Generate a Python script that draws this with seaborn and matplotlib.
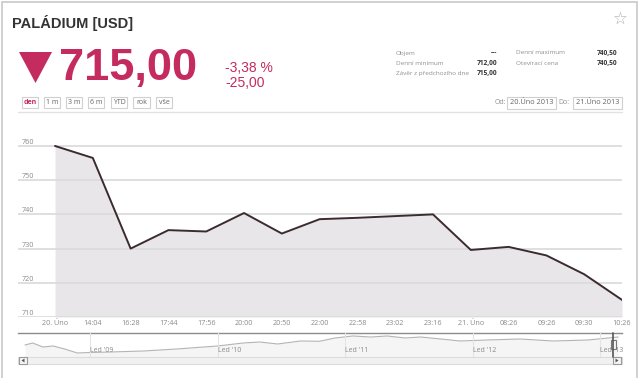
import matplotlib
matplotlib.use("Agg")
import matplotlib.pyplot as plt
from matplotlib.patches import Rectangle, Polygon
import seaborn as sns
import pandas as pd

# ---------------- data ----------------
time_labels = ["20. Úno", "14:04", "16:28", "17:44", "17:56", "20:00", "20:50", "22:00",
               "22:58", "23:02", "23:16", "21. Úno", "08:26", "09:26", "09:30", "10:26"]
prices = [760.0, 756.5, 730.0, 735.4, 735.0, 740.4, 734.4, 738.6,
          739.0, 739.5, 740.0, 729.6, 730.5, 728.0, 722.5, 715.0]
y_ticks = [710, 720, 730, 740, 750, 760]

nav_years = [2008.49, 2008.55, 2008.63, 2008.71, 2008.80, 2008.90, 2009.00, 2009.16,
             2009.42, 2009.68, 2010.00, 2010.20, 2010.33, 2010.47, 2010.65, 2010.80,
             2010.92, 2011.06, 2011.20, 2011.33, 2011.47, 2011.59, 2011.75, 2011.90,
             2012.11, 2012.37, 2012.63, 2012.90, 2013.14]
nav_values = [495, 574, 416, 456, 338, 180, 200, 219, 259, 338, 456, 574, 613, 535,
              653, 642, 771, 850, 810, 850, 771, 810, 732, 653, 692, 732, 653, 692, 810]
nav_tick_years = [2009, 2010, 2011, 2012, 2013]
nav_tick_labels = ["Led '09", "Led '10", "Led '11", "Led '12", "Led '13"]

info_left = [("Objem", "---"), ("Denní minimum", "712,00"), ("Závěr z předchozího dne", "715,00")]
info_right = [("Denní maximum", "740,50"), ("Otevírací cena", "740,50")]
range_buttons = ["den", "1 m", "3 m", "6 m", "YTD", "rok", "vše"]

# ---------------- style ----------------
sns.set_style("white")
plt.rcParams["font.family"] = ["Open Sans", "DejaVu Sans"]

W, H = 640, 378
fig = plt.figure(figsize=(6.4, 3.78), dpi=100)
fig.patch.set_facecolor("white")

def P(x, y):
    return (x / W, 1 - y / H)

def ax_rect(x0, y0, x1, y1):
    return [x0 / W, 1 - y1 / H, (x1 - x0) / W, (y1 - y0) / H]

CRIMSON = "#c42b5e"
GREY_TXT = "#909090"

# outer frame
fig.add_artist(Rectangle(P(2, 380), 635 / W, 378 / H, transform=fig.transFigure,
                         fill=False, edgecolor="#c8c8c8", lw=1.2))

# ---------------- header ----------------
fig.text(*P(12, 23), "PALÁDIUM [USD]", family=["Liberation Sans", "DejaVu Sans"],
         weight="bold", fontsize=10.5, color="#333333", va="center", ha="left")
fig.text(*P(620, 19), "☆", family="DejaVu Sans", fontsize=12, color="#b0b0b0",
         ha="center", va="center")

tri = [P(19, 52), P(52, 52), P(35.5, 83)]
fig.add_artist(Polygon(tri, closed=True, transform=fig.transFigure,
                       facecolor=CRIMSON, edgecolor="none"))
fig.text(*P(59, 80), "715,00", family=["Liberation Sans", "DejaVu Sans"], weight="bold",
         fontsize=32.5, color=CRIMSON, ha="left", va="baseline")
fig.text(*P(225, 68), "-3,38 %", family=["Liberation Sans", "DejaVu Sans"], fontsize=10,
         color=CRIMSON, ha="left", va="center")
fig.text(*P(225, 83), "-25,00", family=["Liberation Sans", "DejaVu Sans"], fontsize=10,
         color=CRIMSON, ha="left", va="center")

# info block
rows_y = [53, 63.5, 74]
for (lab, val), yy in zip(info_left, rows_y):
    fig.text(*P(396, yy), lab, fontsize=4.6, color=GREY_TXT, ha="left", va="center")
    fig.text(*P(497, yy), val, fontsize=4.8, color="#333333", weight="bold",
             ha="right", va="center")
for (lab, val), yy in zip(info_right, rows_y):
    fig.text(*P(516, yy), lab, fontsize=4.6, color=GREY_TXT, ha="left", va="center")
    fig.text(*P(617, yy), val, fontsize=4.8, color="#333333", weight="bold",
             ha="right", va="center")

# range buttons
btn_x = [(22, 38), (44, 60), (66, 82), (88, 104), (111, 127), (133, 150), (156, 172)]
for lab, (x0, x1) in zip(range_buttons, btn_x):
    fig.add_artist(Rectangle(P(x0, 108), (x1 - x0) / W, 11 / H, transform=fig.transFigure,
                             facecolor="white", edgecolor="#d0d0d0", lw=0.8))
    fig.text(*P((x0 + x1) / 2, 102.5), lab, fontsize=5, ha="center", va="center",
             color=CRIMSON if lab == "den" else "#666666",
             weight="bold" if lab == "den" else "normal")

# date range
fig.text(*P(500, 103), "Od:", fontsize=5, color=GREY_TXT, ha="center", va="center")
fig.text(*P(564, 103), "Do:", fontsize=5, color=GREY_TXT, ha="center", va="center")
for (x0, x1), lab in zip([(507, 556), (573, 622)], ["20.Úno 2013", "21.Úno 2013"]):
    fig.add_artist(Rectangle(P(x0, 109), (x1 - x0) / W, 12 / H, transform=fig.transFigure,
                             facecolor="white", edgecolor="#d0d0d0", lw=0.8))
    fig.text(*P((x0 + x1) / 2, 103), lab, fontsize=5.3, color="#666666",
             ha="center", va="center")

# separator line
fig.add_artist(plt.Line2D([18 / W, 622 / W], [1 - 112 / H, 1 - 112 / H],
                          transform=fig.transFigure, color="#e2e2e2", lw=1))

# ---------------- main chart ----------------
df = pd.DataFrame({"pos": list(range(len(prices))), "price": prices, "label": time_labels})
ax = fig.add_axes(ax_rect(18, 140, 622, 317))
ax.set_facecolor("none")
ax.fill_between(df["pos"], df["price"], y_ticks[0], color="#e8e6e8", lw=0, zorder=1)
sns.lineplot(data=df, x="pos", y="price", ax=ax, color="#3b2b30", lw=1.4, zorder=3)
ax.set_xlim(-0.98, len(prices) - 1)
ax.set_ylim(y_ticks[0], 761.75)
ax.set_yticks(y_ticks)
ax.set_yticklabels([str(v) for v in y_ticks])
ax.set_xticks(df["pos"])
ax.set_xticklabels(time_labels)
ax.yaxis.grid(True, color="#dcdcdc", lw=1.3, zorder=2)
ax.set_axisbelow(False)
for s in ax.spines.values():
    s.set_visible(False)
ax.tick_params(axis="y", length=0, pad=-2.5, labelsize=5.2, labelcolor="#8a8a8a")
for t in ax.get_yticklabels():
    t.set_horizontalalignment("left")
    t.set_verticalalignment("bottom")
ax.tick_params(axis="x", length=0, pad=2.5, labelsize=5.2, labelcolor="#8a8a8a")
ax.set_xlabel("")
ax.set_ylabel("")

# ---------------- navigator ----------------
nav = fig.add_axes(ax_rect(18, 333, 622, 357))
nav.set_facecolor("none")
nav.fill_between(nav_years, nav_values, 22, color="#f5f5f5", lw=0, zorder=1)
sns.lineplot(x=nav_years, y=nav_values, ax=nav, color="#b4b4b4", lw=0.8, zorder=2)
nav.set_xlim(2008.435, 2013.17)
nav.set_ylim(22, 968)
nav.set_yticks([])
nav.set_xticks(nav_tick_years)
nav.set_xticklabels(nav_tick_labels)
nav.xaxis.grid(True, color="#e4e4e4", lw=0.8)
nav.set_axisbelow(False)
nav.xaxis.set_zorder(5)
for k, s in nav.spines.items():
    s.set_visible(k == "top")
nav.spines["top"].set_color("#8c8c8c")
nav.spines["top"].set_linewidth(1.0)
nav.tick_params(axis="x", length=0, pad=-7.5, labelsize=5, labelcolor="#8a8a8a")
for t in nav.get_xticklabels():
    t.set_horizontalalignment("left")

# scrollbar
fig.add_artist(Rectangle(P(18, 364), 604 / W, 7 / H, transform=fig.transFigure,
                         facecolor="#f1f1f1", edgecolor="#dcdcdc", lw=0.8))
for x0 in (19, 613):
    fig.add_artist(Rectangle(P(x0, 364), 8 / W, 7 / H, transform=fig.transFigure,
                             facecolor="#f6f6f6", edgecolor="#9a9a9a", lw=0.8))
fig.add_artist(Polygon([P(21.5, 360.5), P(24.5, 358.5), P(24.5, 362.5)], closed=True,
                       transform=fig.transFigure, facecolor="#555555", edgecolor="none"))
fig.add_artist(Polygon([P(618.5, 360.5), P(615.5, 358.5), P(615.5, 362.5)], closed=True,
                       transform=fig.transFigure, facecolor="#555555", edgecolor="none"))
# handle
fig.add_artist(plt.Line2D([613 / W, 613 / W], [1 - 333 / H, 1 - 357 / H],
                          transform=fig.transFigure, color="#555555", lw=1.2))
fig.add_artist(Rectangle(P(610.5, 349), 5 / W, 9 / H, transform=fig.transFigure,
                         facecolor="#f4f4f4", edgecolor="#777777", lw=0.8))

fig.savefig("out.png", dpi=100, facecolor="white")
